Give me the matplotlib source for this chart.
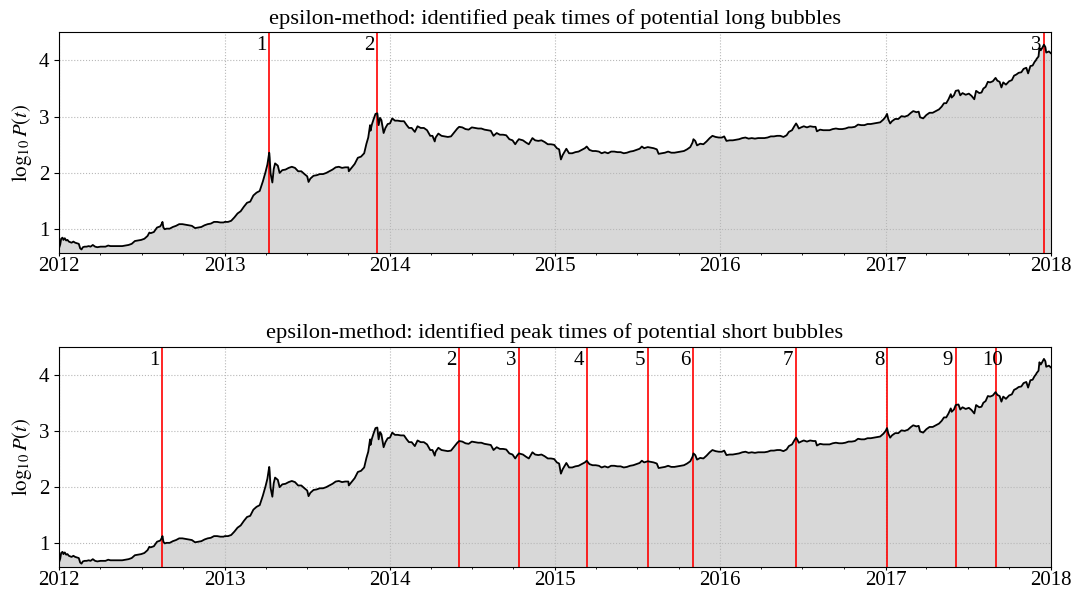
import matplotlib
matplotlib.use("Agg")
import matplotlib.pyplot as plt
import matplotlib.dates as mdates
import pandas as pd

plt.rcParams['font.family'] = 'serif'
plt.rcParams['font.serif'] = ['Liberation Serif', 'DejaVu Serif']
plt.rcParams['mathtext.fontset'] = 'stix'
plt.rcParams['font.size'] = 15

# log10 of the daily BTC close, sampled over 2012-2018
price_2012 = [
    ("2012-01-01", 0.68), ("2012-01-03", 0.73), ("2012-01-05", 0.83), ("2012-01-08", 0.85),
    ("2012-01-10", 0.81), ("2012-01-13", 0.84), ("2012-01-16", 0.80), ("2012-01-19", 0.81),
    ("2012-01-22", 0.78), ("2012-01-25", 0.77), ("2012-01-28", 0.76), ("2012-02-01", 0.78),
    ("2012-02-05", 0.76), ("2012-02-09", 0.75), ("2012-02-13", 0.74), ("2012-02-16", 0.66),
    ("2012-02-19", 0.64), ("2012-02-22", 0.68), ("2012-02-26", 0.69), ("2012-03-01", 0.69),
    ("2012-03-06", 0.70), ("2012-03-10", 0.69), ("2012-03-15", 0.72), ("2012-03-20", 0.69),
    ("2012-03-25", 0.68), ("2012-04-01", 0.69), ("2012-04-06", 0.69), ("2012-04-12", 0.69),
    ("2012-04-18", 0.71), ("2012-04-23", 0.70), ("2012-04-29", 0.70), ("2012-05-05", 0.70),
    ("2012-05-12", 0.70), ("2012-05-19", 0.70), ("2012-05-26", 0.71), ("2012-06-02", 0.72),
    ("2012-06-09", 0.74), ("2012-06-16", 0.79), ("2012-06-23", 0.80), ("2012-06-30", 0.81),
    ("2012-07-07", 0.83), ("2012-07-14", 0.88), ("2012-07-18", 0.94), ("2012-07-21", 0.93),
    ("2012-07-28", 0.95), ("2012-08-04", 1.03), ("2012-08-11", 1.05), ("2012-08-14", 1.09),
    ("2012-08-16", 1.13), ("2012-08-18", 1.03), ("2012-08-21", 1.00), ("2012-08-25", 1.01),
    ("2012-09-01", 1.01), ("2012-09-08", 1.04), ("2012-09-15", 1.06), ("2012-09-22", 1.09),
    ("2012-09-29", 1.09), ("2012-10-06", 1.08), ("2012-10-13", 1.07), ("2012-10-20", 1.06),
    ("2012-10-27", 1.02), ("2012-11-03", 1.03), ("2012-11-10", 1.04), ("2012-11-17", 1.07),
    ("2012-11-24", 1.09), ("2012-12-01", 1.10), ("2012-12-08", 1.13), ("2012-12-15", 1.13),
    ("2012-12-22", 1.12), ("2012-12-29", 1.12),
]
price_2013 = [
    ("2013-01-01", 1.13), ("2013-01-08", 1.13), ("2013-01-15", 1.15), ("2013-01-22", 1.21),
    ("2013-01-29", 1.28), ("2013-02-05", 1.32), ("2013-02-12", 1.40), ("2013-02-19", 1.47),
    ("2013-02-26", 1.49), ("2013-03-05", 1.60), ("2013-03-12", 1.65), ("2013-03-19", 1.68),
    ("2013-03-26", 1.85), ("2013-04-01", 2.02), ("2013-04-05", 2.15), ("2013-04-09", 2.36),
    ("2013-04-10", 2.27), ("2013-04-12", 1.99), ("2013-04-16", 1.83), ("2013-04-19", 2.07),
    ("2013-04-22", 2.17), ("2013-04-25", 2.15), ("2013-04-28", 2.13), ("2013-05-02", 2.00),
    ("2013-05-08", 2.05), ("2013-05-15", 2.06), ("2013-05-22", 2.09), ("2013-05-29", 2.11),
    ("2013-06-05", 2.09), ("2013-06-12", 2.03), ("2013-06-19", 2.03), ("2013-06-26", 1.98),
    ("2013-07-02", 1.94), ("2013-07-05", 1.84), ("2013-07-09", 1.90), ("2013-07-16", 1.95),
    ("2013-07-23", 1.96), ("2013-07-30", 1.98), ("2013-08-06", 1.98), ("2013-08-13", 2.00),
    ("2013-08-20", 2.03), ("2013-08-27", 2.06), ("2013-09-03", 2.10), ("2013-09-10", 2.11),
    ("2013-09-17", 2.09), ("2013-09-24", 2.10), ("2013-10-01", 2.10), ("2013-10-02", 2.03),
    ("2013-10-08", 2.09), ("2013-10-15", 2.16), ("2013-10-22", 2.27), ("2013-10-29", 2.29),
    ("2013-11-05", 2.35), ("2013-11-10", 2.52), ("2013-11-14", 2.63), ("2013-11-18", 2.85),
    ("2013-11-19", 2.75), ("2013-11-22", 2.86), ("2013-11-26", 2.96), ("2013-11-30", 3.05),
    ("2013-12-04", 3.06), ("2013-12-07", 2.85), ("2013-12-10", 2.98), ("2013-12-13", 2.94),
    ("2013-12-18", 2.71), ("2013-12-22", 2.80), ("2013-12-27", 2.87),
]
price_2014 = [
    ("2014-01-01", 2.88), ("2014-01-06", 2.97), ("2014-01-12", 2.93), ("2014-01-18", 2.93),
    ("2014-01-25", 2.92), ("2014-02-01", 2.92), ("2014-02-07", 2.85), ("2014-02-12", 2.80),
    ("2014-02-18", 2.80), ("2014-02-25", 2.73), ("2014-03-03", 2.83), ("2014-03-10", 2.80),
    ("2014-03-17", 2.80), ("2014-03-24", 2.76), ("2014-03-31", 2.66), ("2014-04-05", 2.66),
    ("2014-04-10", 2.56), ("2014-04-12", 2.63), ("2014-04-18", 2.70), ("2014-04-25", 2.66),
    ("2014-05-02", 2.65), ("2014-05-09", 2.64), ("2014-05-16", 2.65), ("2014-05-23", 2.72),
    ("2014-05-30", 2.79), ("2014-06-03", 2.82), ("2014-06-10", 2.81), ("2014-06-17", 2.78),
    ("2014-06-24", 2.77), ("2014-07-01", 2.81), ("2014-07-08", 2.80), ("2014-07-15", 2.79),
    ("2014-07-22", 2.79), ("2014-07-29", 2.77), ("2014-08-05", 2.76), ("2014-08-12", 2.75),
    ("2014-08-18", 2.66), ("2014-08-25", 2.71), ("2014-09-01", 2.68), ("2014-09-08", 2.68),
    ("2014-09-15", 2.67), ("2014-09-22", 2.60), ("2014-09-29", 2.58), ("2014-10-05", 2.51),
    ("2014-10-09", 2.56), ("2014-10-13", 2.60), ("2014-10-22", 2.58), ("2014-10-29", 2.54),
    ("2014-11-04", 2.51), ("2014-11-12", 2.62), ("2014-11-18", 2.58), ("2014-11-25", 2.57),
    ("2014-12-02", 2.58), ("2014-12-09", 2.55), ("2014-12-16", 2.51), ("2014-12-23", 2.51),
    ("2014-12-30", 2.50),
]
price_2015 = [
    ("2015-01-05", 2.44), ("2015-01-10", 2.42), ("2015-01-14", 2.24), ("2015-01-18", 2.32),
    ("2015-01-26", 2.43), ("2015-02-01", 2.35), ("2015-02-08", 2.35), ("2015-02-15", 2.37),
    ("2015-02-22", 2.38), ("2015-03-01", 2.41), ("2015-03-08", 2.44), ("2015-03-12", 2.47),
    ("2015-03-18", 2.41), ("2015-03-25", 2.39), ("2015-04-01", 2.39), ("2015-04-08", 2.38),
    ("2015-04-14", 2.35), ("2015-04-21", 2.37), ("2015-04-28", 2.35), ("2015-05-05", 2.38),
    ("2015-05-12", 2.38), ("2015-05-19", 2.37), ("2015-05-26", 2.37), ("2015-06-02", 2.35),
    ("2015-06-09", 2.36), ("2015-06-16", 2.38), ("2015-06-23", 2.39), ("2015-06-30", 2.41),
    ("2015-07-07", 2.43), ("2015-07-12", 2.47), ("2015-07-17", 2.44), ("2015-07-25", 2.46),
    ("2015-07-31", 2.45), ("2015-08-07", 2.44), ("2015-08-14", 2.42), ("2015-08-18", 2.34),
    ("2015-08-25", 2.35), ("2015-09-01", 2.36), ("2015-09-08", 2.38), ("2015-09-15", 2.36),
    ("2015-09-22", 2.36), ("2015-09-29", 2.37), ("2015-10-06", 2.38), ("2015-10-13", 2.39),
    ("2015-10-20", 2.42), ("2015-10-27", 2.46), ("2015-11-01", 2.54), ("2015-11-03", 2.60),
    ("2015-11-07", 2.57), ("2015-11-11", 2.49), ("2015-11-18", 2.52), ("2015-11-25", 2.51),
    ("2015-12-02", 2.56), ("2015-12-09", 2.62), ("2015-12-15", 2.66), ("2015-12-22", 2.64),
    ("2015-12-29", 2.63),
]
price_2016 = [
    ("2016-01-05", 2.63), ("2016-01-10", 2.65), ("2016-01-15", 2.57), ("2016-01-22", 2.58),
    ("2016-01-29", 2.58), ("2016-02-05", 2.59), ("2016-02-12", 2.60), ("2016-02-19", 2.62),
    ("2016-02-26", 2.63), ("2016-03-04", 2.61), ("2016-03-11", 2.62), ("2016-03-18", 2.61),
    ("2016-03-25", 2.62), ("2016-04-01", 2.62), ("2016-04-08", 2.62), ("2016-04-15", 2.63),
    ("2016-04-22", 2.65), ("2016-04-29", 2.65), ("2016-05-06", 2.66), ("2016-05-13", 2.66),
    ("2016-05-20", 2.64), ("2016-05-27", 2.67), ("2016-06-01", 2.73), ("2016-06-08", 2.76),
    ("2016-06-13", 2.83), ("2016-06-17", 2.88), ("2016-06-20", 2.84), ("2016-06-23", 2.79),
    ("2016-06-28", 2.81), ("2016-07-04", 2.83), ("2016-07-11", 2.81), ("2016-07-18", 2.83),
    ("2016-07-25", 2.82), ("2016-07-30", 2.82), ("2016-08-02", 2.74), ("2016-08-09", 2.77),
    ("2016-08-16", 2.76), ("2016-08-23", 2.76), ("2016-08-30", 2.76), ("2016-09-06", 2.78),
    ("2016-09-13", 2.79), ("2016-09-20", 2.78), ("2016-09-27", 2.78), ("2016-10-04", 2.79),
    ("2016-10-11", 2.81), ("2016-10-18", 2.81), ("2016-10-25", 2.82), ("2016-11-01", 2.86),
    ("2016-11-08", 2.85), ("2016-11-15", 2.85), ("2016-11-22", 2.87), ("2016-11-29", 2.87),
    ("2016-12-06", 2.88), ("2016-12-13", 2.89), ("2016-12-20", 2.90), ("2016-12-27", 2.95),
]
price_2017 = [
    ("2017-01-01", 3.00), ("2017-01-04", 3.05), ("2017-01-07", 2.95), ("2017-01-11", 2.88),
    ("2017-01-15", 2.92), ("2017-01-22", 2.96), ("2017-01-29", 2.96), ("2017-02-05", 3.01),
    ("2017-02-12", 3.00), ("2017-02-19", 3.02), ("2017-02-26", 3.07), ("2017-03-03", 3.10),
    ("2017-03-10", 3.08), ("2017-03-15", 3.09), ("2017-03-18", 2.99), ("2017-03-25", 2.97),
    ("2017-04-01", 3.03), ("2017-04-08", 3.07), ("2017-04-15", 3.07), ("2017-04-22", 3.10),
    ("2017-04-29", 3.13), ("2017-05-05", 3.18), ("2017-05-10", 3.24), ("2017-05-15", 3.24),
    ("2017-05-20", 3.31), ("2017-05-25", 3.40), ("2017-05-27", 3.34), ("2017-06-01", 3.38),
    ("2017-06-05", 3.46), ("2017-06-11", 3.47), ("2017-06-15", 3.38), ("2017-06-20", 3.42),
    ("2017-06-27", 3.39), ("2017-07-04", 3.41), ("2017-07-10", 3.37), ("2017-07-16", 3.31),
    ("2017-07-20", 3.46), ("2017-07-27", 3.42), ("2017-08-01", 3.43), ("2017-08-05", 3.50),
    ("2017-08-10", 3.53), ("2017-08-15", 3.62), ("2017-08-20", 3.61), ("2017-08-26", 3.63),
    ("2017-09-01", 3.69), ("2017-09-05", 3.64), ("2017-09-10", 3.62), ("2017-09-14", 3.52),
    ("2017-09-18", 3.61), ("2017-09-24", 3.57), ("2017-10-01", 3.63), ("2017-10-07", 3.65),
    ("2017-10-12", 3.73), ("2017-10-17", 3.75), ("2017-10-22", 3.78), ("2017-10-28", 3.79),
    ("2017-11-02", 3.85), ("2017-11-08", 3.87), ("2017-11-12", 3.77), ("2017-11-17", 3.90),
    ("2017-11-22", 3.91), ("2017-11-26", 3.97), ("2017-11-29", 4.00), ("2017-12-01", 4.03),
    ("2017-12-05", 4.07), ("2017-12-07", 4.22), ("2017-12-10", 4.18), ("2017-12-13", 4.22),
    ("2017-12-17", 4.28), ("2017-12-20", 4.24), ("2017-12-22", 4.14), ("2017-12-25", 4.15),
    ("2017-12-28", 4.16), ("2018-01-01", 4.13),
]

long_peaks = ["2013-04-09", "2013-12-04", "2017-12-17"]
short_peaks = ["2012-08-16", "2014-06-03", "2014-10-13", "2015-03-12", "2015-07-25",
               "2015-11-03", "2016-06-17", "2017-01-04", "2017-06-05", "2017-09-01"]

rows = price_2012 + price_2013 + price_2014 + price_2015 + price_2016 + price_2017
df = pd.DataFrame(rows, columns=["date", "logp"])
df["date"] = pd.to_datetime(df["date"])

fig, axes = plt.subplots(2, 1, figsize=(10.77, 5.93), dpi=100)
fig.subplots_adjust(left=0.0551, right=0.9756, top=0.9455, bottom=0.0433, hspace=0.423)

titles = ["epsilon-method: identified peak times of potential long bubbles",
          "epsilon-method: identified peak times of potential short bubbles"]

for ax, peaks, title in zip(axes, [long_peaks, short_peaks], titles):
    ax.fill_between(df["date"], 0, df["logp"], color="#d8d8d8", zorder=1)
    for i, p in enumerate(pd.to_datetime(peaks)):
        ax.axvline(p, color="red", lw=1.2, zorder=1.8)
        ax.text(p - pd.Timedelta(days=29), 4.18, str(i + 1), ha="left", va="baseline")
    ax.plot(df["date"], df["logp"], color="black", lw=1.3, zorder=2)

    ax.set_xlim(pd.Timestamp("2012-01-01"), pd.Timestamp("2018-01-01"))
    ax.set_ylim(0.575, 4.5)
    ax.set_yticks([1, 2, 3, 4])
    ax.xaxis.set_major_locator(mdates.YearLocator())
    ax.xaxis.set_major_formatter(mdates.DateFormatter("%Y"))
    ax.xaxis.set_minor_locator(mdates.MonthLocator(bymonth=[4, 7, 10]))
    ax.tick_params(axis="x", which="major", length=2.5, pad=0.5)
    ax.tick_params(axis="x", which="minor", length=1.5)
    ax.grid(True, which="major", ls=":", color="#b8b8b8", lw=0.8)
    ax.set_ylabel(r"$\log_{10}P(t)$")
    ax.set_title(title, fontsize=16.2)

fig.savefig("out.png", dpi=100)
